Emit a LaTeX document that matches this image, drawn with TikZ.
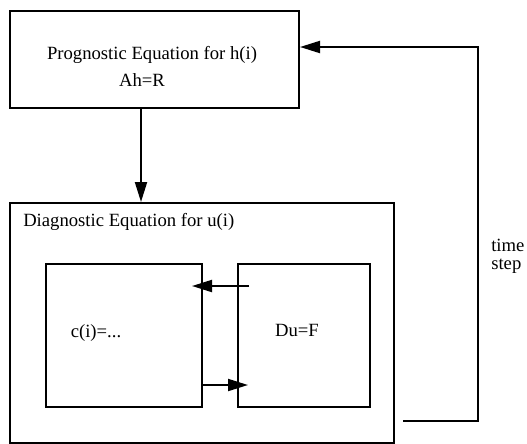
\documentclass[tikz,border=0pt]{standalone}
\usepackage{fontspec}
\setmainfont{Liberation Serif}
\usetikzlibrary{positioning, arrows.meta}

\begin{document}
\begin{tikzpicture}[x=0.75pt, y=-0.75pt, font=\fontsize{14}{17}\selectfont,
    box/.style={draw, line width=1.5pt, inner sep=0pt, anchor=north west},
    flow/.style={-{Triangle[length=15pt, width=9pt]}, line width=1.5pt}]
    \useasboundingbox (0,0) rectangle (527,443);
    % boxes
    \node[box, minimum width=289*0.75pt, minimum height=97*0.75pt] (prog) at (9,10) {};
    \node[box, minimum width=384.5*0.75pt, minimum height=240*0.75pt] (diag) at (8.5,202) {};
    \node[box, minimum width=156*0.75pt, minimum height=143*0.75pt] (ci) at (45,263) {};
    \node[box, minimum width=132*0.75pt, minimum height=143*0.75pt] (du) at (237,263) {};
    % texts
    \node (progtxt) at (152,55) {Prognostic Equation for h(i)};
    \node (ahr) at (142,80) {Ah=R};
    \node[anchor=west, inner sep=0pt] (diagtxt) at (23,222) {Diagnostic Equation for u(i)};
    \node (citxt) at (ci.center) [xshift=-28*0.75pt, yshift=2*0.75pt] {c(i)=...};
    \node (dutxt) at (du.center) [xshift=-7*0.75pt, yshift=5*0.75pt] {Du=F};
    \node[anchor=west, align=left, inner sep=0pt, font=\fontsize{14}{13.5}\selectfont] (step) at (491,256) {time\\step};
    % connectors
    \coordinate (loopin) at ([xshift=8*0.75pt, yshift=23*0.75pt]diag.south east);
    \coordinate (loopup) at (478,0);
    \draw[flow] (prog.south -| 141,0) -- (diag.north -| 141,0);
    \draw[flow] ([xshift=12*0.75pt, yshift=-23*0.75pt]du.north west) -- ([xshift=-11*0.75pt, yshift=-23*0.75pt]ci.north east);
    \draw[flow] ([yshift=23*0.75pt]ci.south east) -- ([xshift=11*0.75pt, yshift=23*0.75pt]du.south west);
    \draw[flow] (loopin) -- (loopin -| loopup) -- ([yshift=-37*0.75pt]prog.north east -| loopup) -- ([yshift=-37*0.75pt]prog.north east);
\end{tikzpicture}
\end{document}
